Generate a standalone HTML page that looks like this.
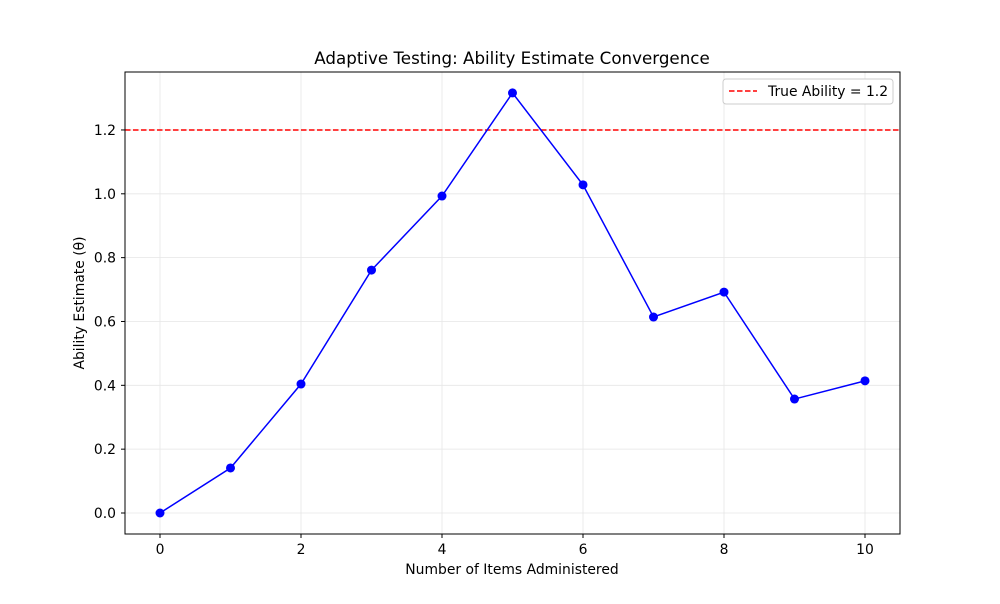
<!DOCTYPE html>
<html><head><meta charset="utf-8"><style>
body{margin:0;background:#fff;font-family:"DejaVu Sans","Liberation Sans",sans-serif}
</style></head><body>
<svg id="chart" width="1000" height="600" viewBox="0 0 1000 600" xmlns="http://www.w3.org/2000/svg" font-family="DejaVu Sans, Liberation Sans, sans-serif">
<rect width="1000" height="600" fill="#fff"/>
<g id="grid"></g>
<g id="plot"></g>
<rect x="125" y="72" width="775" height="462" fill="none" stroke="#000" stroke-width="1"/>
<g id="ticks" font-size="13.9" fill="#000"></g>
<text x="512" y="64" text-anchor="middle" font-size="16.7">Adaptive Testing: Ability Estimate Convergence</text>
<text x="512" y="574" text-anchor="middle" font-size="13.9">Number of Items Administered</text>
<text transform="translate(84,303) rotate(-90)" text-anchor="middle" font-size="13.9">Ability Estimate (θ)</text>
<g>
<rect x="723" y="79" width="170" height="25" rx="3" fill="#fff" stroke="#ccc"/>
<line x1="729" y1="91" x2="757" y2="91" stroke="red" stroke-width="1.5" stroke-dasharray="5.5,2.5"/>
<text x="768" y="96" font-size="13.9">True Ability = 1.2</text>
</g>
</svg>
<script>
const items=[0,1,2,3,4,5,6,7,8,9,10];
const ability=[0,0.141,0.404,0.761,0.993,1.316,1.028,0.614,0.692,0.357,0.414];
const trueAbility=1.2;
const xTicks=[0,2,4,6,8,10];
const yTicks=[0.0,0.2,0.4,0.6,0.8,1.0,1.2];
const X=v=>160+v*70.5;
const Y=v=>513-v*319.2;
const NS="http://www.w3.org/2000/svg";
function mk(t,a,p){const e=document.createElementNS(NS,t);for(const k in a)e.setAttribute(k,a[k]);p.appendChild(e);return e;}
const grid=document.getElementById('grid'),plot=document.getElementById('plot'),ticks=document.getElementById('ticks');
xTicks.forEach(v=>{
 const g=mk('line',{x1:X(v),x2:X(v),y1:72,y2:534,stroke:'#e6e6e6','stroke-width':0.8},grid);
 
 
 mk('line',{x1:X(v),x2:X(v),y1:534,y2:538,stroke:'#000'},ticks);
 const t=mk('text',{x:X(v),y:554,'text-anchor':'middle'},ticks);t.textContent=v;
 
 
});
yTicks.forEach(v=>{
 const g=mk('line',{x1:125,x2:900,y1:Y(v),y2:Y(v),stroke:'#e6e6e6','stroke-width':0.8},grid);
 
 
 mk('line',{x1:121,x2:125,y1:Y(v),y2:Y(v),stroke:'#000'},ticks);
 const t=mk('text',{x:116,y:Y(v)+5,'text-anchor':'end'},ticks);t.textContent=v.toFixed(1);
 
 
});
const ref=mk('line',{x1:125,x2:900,y1:Y(trueAbility),y2:Y(trueAbility),stroke:'red','stroke-width':1.5,'stroke-dasharray':'5.5,2.5'},plot);


const line=mk('polyline',{points:items.map((x,i)=>X(x)+','+Y(ability[i])).join(' '),fill:'none',stroke:'blue','stroke-width':1.5},plot);


items.forEach((x,i)=>{
 const c=mk('circle',{cx:X(x),cy:Y(ability[i]),r:4.5,fill:'blue'},plot);
 
 
});
</script>
</body></html>
